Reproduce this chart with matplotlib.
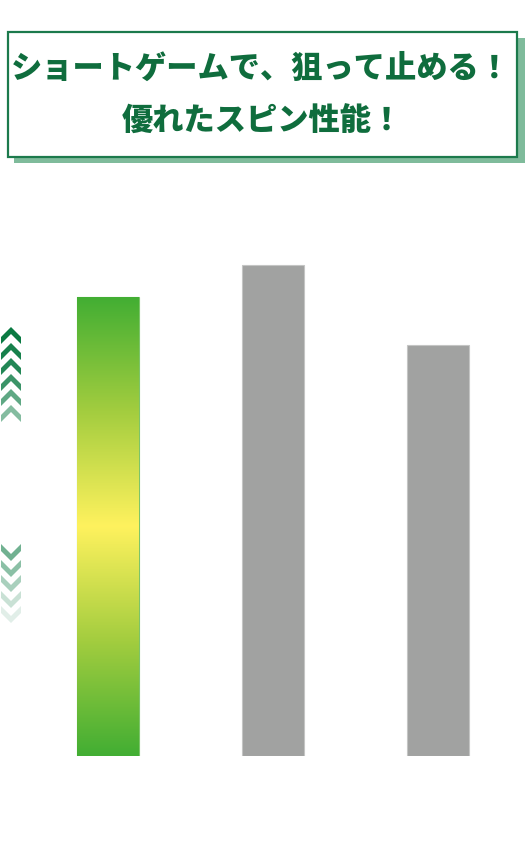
import matplotlib
matplotlib.use("Agg")
import matplotlib.pyplot as plt
import numpy as np
from matplotlib.colors import LinearSegmentedColormap
from matplotlib.patches import Rectangle, Polygon

plt.rcParams['font.family'] = ['Noto Sans CJK JP', 'DejaVu Sans']

# データ
models = ['A', 'B', 'C']
spin = [93.5, 100.0, 83.7]
title_lines = ['ショートゲームで、狙って止める！', '優れたスピン性能！']

W, H = 532, 854
fig = plt.figure(figsize=(W / 100, H / 100), dpi=100)

# 棒グラフ用の軸 (ピクセル位置で配置)
ax_bottom, ax_top = 757, 200
ax = fig.add_axes([0, 1 - ax_bottom / H, 1, (ax_bottom - ax_top) / H])
ax.axis('off')
step = 165
x = np.arange(len(models))
width = 62 / step
bars = ax.bar(x, spin, width=width, color='#a1a2a1', edgecolor='#c4c5c4', linewidth=0.8)

# 1本目はグラデーション
cmap = LinearSegmentedColormap.from_list(
    'g', [(0.0, '#42ae33'), (0.25, '#a3cd3f'), (0.5, '#fff25e'), (0.75, '#a3cd3f'), (1.0, '#42ae33')])
b0 = bars[0]
b0.set_facecolor('none')
b0.set_edgecolor('#7cc46a')
grad = np.linspace(0, 1, 256).reshape(-1, 1)
im = ax.imshow(grad, cmap=cmap, aspect='auto', origin='lower',
               extent=[x[0] - width / 2, x[0] + width / 2, 0, spin[0]], zorder=1)
im.set_clip_path(b0)
ax.set_xlim(-108 / step, (W - 108) / step)
ax.set_ylim(0, (ax_bottom - ax_top) / (491 / 100))

# オーバーレイ (タイトル枠と矢印)
ov = fig.add_axes([0, 0, 1, 1])
ov.set_xlim(0, W)
ov.set_ylim(H, 0)
ov.axis('off')

ov.add_patch(Rectangle((14, 39), 511, 125, facecolor='#7fbb9b', edgecolor='none', zorder=1))
ov.add_patch(Rectangle((8, 33), 509, 125, facecolor='white', edgecolor='#1c7a4c', linewidth=1.6, zorder=2))
ov.text(261, 68, title_lines[0], ha='center', va='center', fontsize=22.5,
        fontweight='black', color='#0f6d3d', zorder=3)
ov.text(262, 121, title_lines[1], ha='center', va='center', fontsize=22.5,
        fontweight='black', color='#0f6d3d', zorder=3)

green = '#0a7a42'
up_tops = [328, 344, 359, 375, 390, 406]
up_alpha = [1.0, 0.95, 0.9, 0.8, 0.65, 0.5]
for t, a in zip(up_tops, up_alpha):
    ov.add_patch(Polygon([(1, t + 10), (11, t), (21, t + 10), (21, t + 17), (11, t + 7), (1, t + 17)],
                         closed=True, facecolor=green, alpha=a, edgecolor='none'))

down_tops = [545, 561, 576, 592, 607]
down_alpha = [0.58, 0.47, 0.35, 0.22, 0.12]
for t, a in zip(down_tops, down_alpha):
    ov.add_patch(Polygon([(1, t), (11, t + 10), (21, t), (21, t + 7), (11, t + 17), (1, t + 7)],
                         closed=True, facecolor=green, alpha=a, edgecolor='none'))

fig.savefig('out.png', dpi=100)
